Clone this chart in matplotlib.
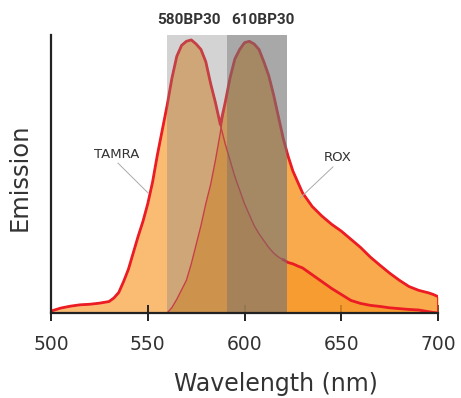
# plot.py - TAMRA / ROX emission spectra with the 580BP30 and 610BP30 filter bands

import numpy as np
import matplotlib
import matplotlib.pyplot as plt

matplotlib.use("Agg")

# ── 1. Data ──────────────────────────────────────────────────────────────────

wavelength = [500, 505, 510, 515, 520, 525, 530, 532.5, 535, 537.5, 540, 542.5,
              545, 547.5, 550, 552.5, 555, 557.5, 560, 562.5, 565, 567.5, 570,
              572.5, 575, 577.5, 580, 582.5, 585, 587.5, 590, 592.5, 595, 597.5,
              600, 602.5, 605, 607.5, 610, 612.5, 615, 617.5, 620, 622.5, 625,
              627.5, 630, 635, 640, 645, 650, 655, 660, 665, 670, 675,
              680, 685, 690, 695, 697.5, 700]

tamra = [0.007, 0.018, 0.025, 0.030, 0.032, 0.036, 0.042, 0.055, 0.075, 0.115, 0.16, 0.22,
         0.28, 0.335, 0.40, 0.48, 0.58, 0.67, 0.76, 0.86, 0.94, 0.98, 0.995,
         1.0, 0.985, 0.965, 0.92, 0.84, 0.77, 0.69, 0.62, 0.56, 0.50, 0.45,
         0.40, 0.36, 0.32, 0.29, 0.265, 0.24, 0.22, 0.205, 0.195, 0.185, 0.18,
         0.172, 0.165, 0.14, 0.115, 0.09, 0.068, 0.046, 0.035, 0.028, 0.024, 0.019,
         0.016, 0.013, 0.011, 0.005, 0.002, 0.0]

rox = [0, 0, 0, 0, 0, 0, 0, 0, 0, 0, 0, 0,
       0, 0, 0, 0, 0, 0, 0.0, 0.02, 0.05, 0.085, 0.12,
       0.18, 0.25, 0.32, 0.40, 0.47, 0.56, 0.66, 0.77, 0.86, 0.93, 0.965,
       0.99, 0.995, 0.985, 0.965, 0.92, 0.87, 0.80, 0.72, 0.64, 0.575, 0.52,
       0.48, 0.44, 0.39, 0.355, 0.325, 0.30, 0.27, 0.24, 0.205, 0.175, 0.146,
       0.12, 0.097, 0.083, 0.074, 0.068, 0.06]

filter_names = ["580BP30", "610BP30"]
filter_edges = [(560, 591), (591, 622)]
filter_label_x = [571.3, 609.6]

x_ticks = [500, 550, 600, 650, 700]

wl = np.array(wavelength)
t = np.array(tamra)
r = np.array(rox)

# ── 2. Figure ────────────────────────────────────────────────────────────────

fig = plt.figure(figsize=(4.61, 3.98), dpi=100)
ax = fig.add_axes([51 / 461, 85 / 398, 387 / 461, 278 / 398])

RED = "#EC1C24"
TEXT = "#333333"

# filled spectra (ROX semi-transparent on top of TAMRA)
ax.fill_between(wl, 0, t, color="#FABB73", lw=0, zorder=1)
ax.fill_between(wl, 0, r, color="#F79520", alpha=0.8, lw=0, zorder=2)

# thin inner lines, thick outer envelope
ax.plot(wl, t, color=RED, lw=1.0, zorder=3)
ax.plot(wl, r, color=RED, lw=1.0, zorder=3)
ax.plot(wl, np.maximum(t, r), color=RED, lw=2.0, zorder=3, solid_joinstyle="round")
tail = wl >= 620
ax.plot(wl[tail], t[tail], color=RED, lw=2.0, zorder=3, solid_joinstyle="round")
# right edge of the ROX fill
ax.plot([wl[-1], wl[-1]], [0, r[-1]], color=RED, lw=2.0, zorder=3)

# filter bands drawn over the spectra
ax.axvspan(*filter_edges[0], color="#818181", alpha=0.35, lw=0, zorder=4)
ax.axvspan(*filter_edges[1], color="#737373", alpha=0.62, lw=0, zorder=4)

for name, xpos in zip(filter_names, filter_label_x):
    ax.text(xpos, 1.054, name, transform=ax.get_xaxis_transform(),
            ha="center", va="center", fontsize=11, fontweight="bold",
            family="Roboto", color=TEXT)

# dye labels with leader lines
ax.text(534.1, 0.579, "TAMRA", ha="center", va="center", fontsize=9.5, color=TEXT)
ax.plot([534.6, 550.1], [0.549, 0.44], color="#AAAAAA", lw=0.7, zorder=5)
ax.text(648.3, 0.571, "ROX", ha="center", va="center", fontsize=9.5, color=TEXT)
ax.plot([645.7, 628.7], [0.535, 0.421], color="#AAAAAA", lw=0.7, zorder=5)

# ── 3. Axes styling ──────────────────────────────────────────────────────────

ax.set_xlim(500, 700)
ax.set_ylim(0, 1.018)
ax.set_xticks(x_ticks)
ax.set_yticks([])

ax.tick_params(axis="x", direction="inout", length=12, width=1.4,
               color="#222222", labelsize=13.5, labelcolor=TEXT, pad=9.5)
ax.xaxis.get_major_ticks()[-1].tick1line.set_color("#888888")

for side in ["top", "right"]:
    ax.spines[side].set_visible(False)
for side in ["left", "bottom"]:
    ax.spines[side].set_linewidth(1.6)
    ax.spines[side].set_color("#222222")
    ax.spines[side].set_zorder(6)

ax.set_xlabel("Wavelength (nm)", fontsize=17, color=TEXT)
ax.xaxis.set_label_coords(0.581, -0.212)
ax.set_ylabel("Emission", fontsize=17.5, color=TEXT)
ax.yaxis.set_label_coords(-0.049, 0.489)

fig.savefig("out.png", dpi=100)
